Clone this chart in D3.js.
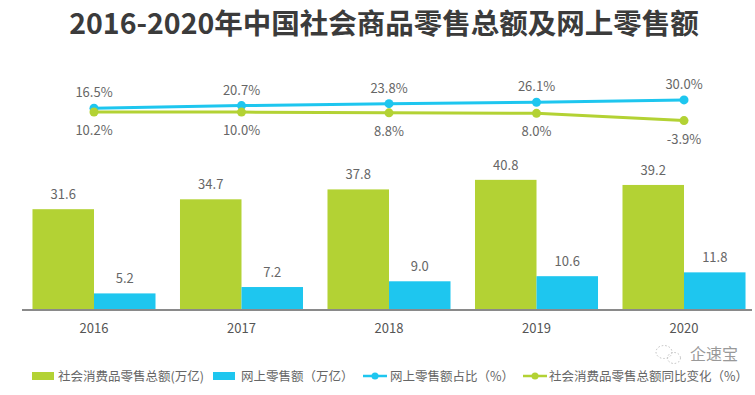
<!DOCTYPE html>
<html><head><meta charset="utf-8">
<script src="https://cdn.jsdelivr.net/npm/d3@7"></script>
<style>body{margin:0;background:#fff}svg{display:block}</style>
</head><body>
<svg id="c" width="755" height="395"></svg>
<script>
const title = "2016-2020年中国社会商品零售总额及网上零售额";
const years = ["2016","2017","2018","2019","2020"];
const totalRetail = [31.6, 34.7, 37.8, 40.8, 39.2];
const onlineRetail = [5.2, 7.2, 9.0, 10.6, 11.8];
const onlineShare = [16.5, 20.7, 23.8, 26.1, 30.0];
const totalGrowth = [10.2, 10.0, 8.8, 8.0, -3.9];
const legendLabels = ["社会消费品零售总额(万亿)", "网上零售额（万亿）", "网上零售额占比（%）", "社会消费品零售总额同比变化（%）"];

const green = "#b3d234", blue = "#1ec6ef";
const font = "'Noto Sans CJK SC','Noto Sans',sans-serif";
const svg = d3.select("#c");

svg.append("text").attr("x", 384).attr("y", 34).attr("text-anchor","middle")
  .attr("font-family", font).attr("font-weight","bold").attr("font-size", 28.5)
  .attr("fill","#3b3b3b").text(title);

const x = d3.scaleBand().domain(years).range([8, 770]).paddingInner(0.166).paddingOuter(0.166);
const sub = d3.scaleBand().domain(["t","o"]).range([0, x.bandwidth()]);
const y = d3.scaleLinear().domain([0, 10]).range([310, 278.1]);
const yl = d3.scaleLinear().domain([0, 30]).range([118.2, 99.9]);

const g = svg.append("g");
years.forEach((yr, i) => {
  const x0 = x(yr);
  g.append("rect").attr("x", x0 + sub("t")).attr("width", sub.bandwidth())
    .attr("y", y(totalRetail[i])).attr("height", y(0) - y(totalRetail[i])).attr("fill", green);
  g.append("rect").attr("x", x0 + sub("o")).attr("width", sub.bandwidth())
    .attr("y", y(onlineRetail[i])).attr("height", y(0) - y(onlineRetail[i])).attr("fill", blue);
  g.append("text").attr("x", x0 + sub("t") + sub.bandwidth()/2).attr("y", y(totalRetail[i]) - 10)
    .attr("text-anchor","middle").attr("font-family", font).attr("font-size", 13).attr("fill","#666")
    .text(totalRetail[i].toFixed(1));
  g.append("text").attr("x", x0 + sub("o") + sub.bandwidth()/2).attr("y", y(onlineRetail[i]) - 10)
    .attr("text-anchor","middle").attr("font-family", font).attr("font-size", 13).attr("fill","#666")
    .text(onlineRetail[i].toFixed(1));
});

// axis
const ax = svg.append("g").attr("transform","translate(0,310)")
  .call(d3.axisBottom(x).tickSize(0).tickPadding(14));
ax.select(".domain").attr("d","M22,0H752").attr("stroke","#8a8a8a").attr("stroke-width",2);
ax.selectAll("text").attr("font-family", font).attr("font-size", 13).attr("fill","#555");

const cx = d => x(d) + x.bandwidth()/2;
const line = arr => d3.line().x((d,i) => cx(years[i])).y(d => yl(d))(arr);
[[onlineShare, blue, -11], [totalGrowth, green, 23]].forEach(([arr, col, dy]) => {
  svg.append("path").attr("d", line(arr)).attr("fill","none").attr("stroke", col).attr("stroke-width", 3);
  arr.forEach((v, i) => {
    svg.append("circle").attr("cx", cx(years[i])).attr("cy", yl(v)).attr("r", 4.5).attr("fill", col);
    svg.append("text").attr("x", cx(years[i])).attr("y", yl(v) + dy).attr("text-anchor","middle")
      .attr("font-family", font).attr("font-size", 13).attr("fill","#666").text(v.toFixed(1) + "%");
  });
});

// legend
const lg = svg.append("g").attr("font-family", font).attr("font-size", 12.5).attr("fill","#666");
const items = [
  {type:"rect", col: green, x: 32, tx: 58},
  {type:"rect", col: blue, x: 213, tx: 241},
  {type:"line", col: blue, x: 363, tx: 390},
  {type:"line", col: green, x: 523, tx: 549}
];
items.forEach((it, i) => {
  if (it.type === "rect") {
    lg.append("rect").attr("x", it.x).attr("y", 372).attr("width", 22).attr("height", 8).attr("fill", it.col);
  } else {
    lg.append("line").attr("x1", it.x).attr("x2", it.x + 24).attr("y1", 376).attr("y2", 376)
      .attr("stroke", it.col).attr("stroke-width", 2.5);
    lg.append("circle").attr("cx", it.x + 12).attr("cy", 376).attr("r", 3.5).attr("fill", it.col);
  }
  lg.append("text").attr("x", it.tx).attr("y", 380.5).text(legendLabels[i]);
});

// watermark
const wm = svg.append("g").attr("opacity", 0.75);
wm.append("ellipse").attr("cx", 664).attr("cy", 352).attr("rx", 8).attr("ry", 6.5)
  .attr("fill","none").attr("stroke","#aaa").attr("stroke-dasharray","1.5,2");
wm.append("ellipse").attr("cx", 674).attr("cy", 358).attr("rx", 6.5).attr("ry", 5.5)
  .attr("fill","none").attr("stroke","#aaa").attr("stroke-dasharray","1.5,2");
wm.append("text").attr("x", 690).attr("y", 360).attr("font-family", font).attr("font-size", 16)
  .attr("fill","#777").text("企速宝");
</script>
</body></html>
